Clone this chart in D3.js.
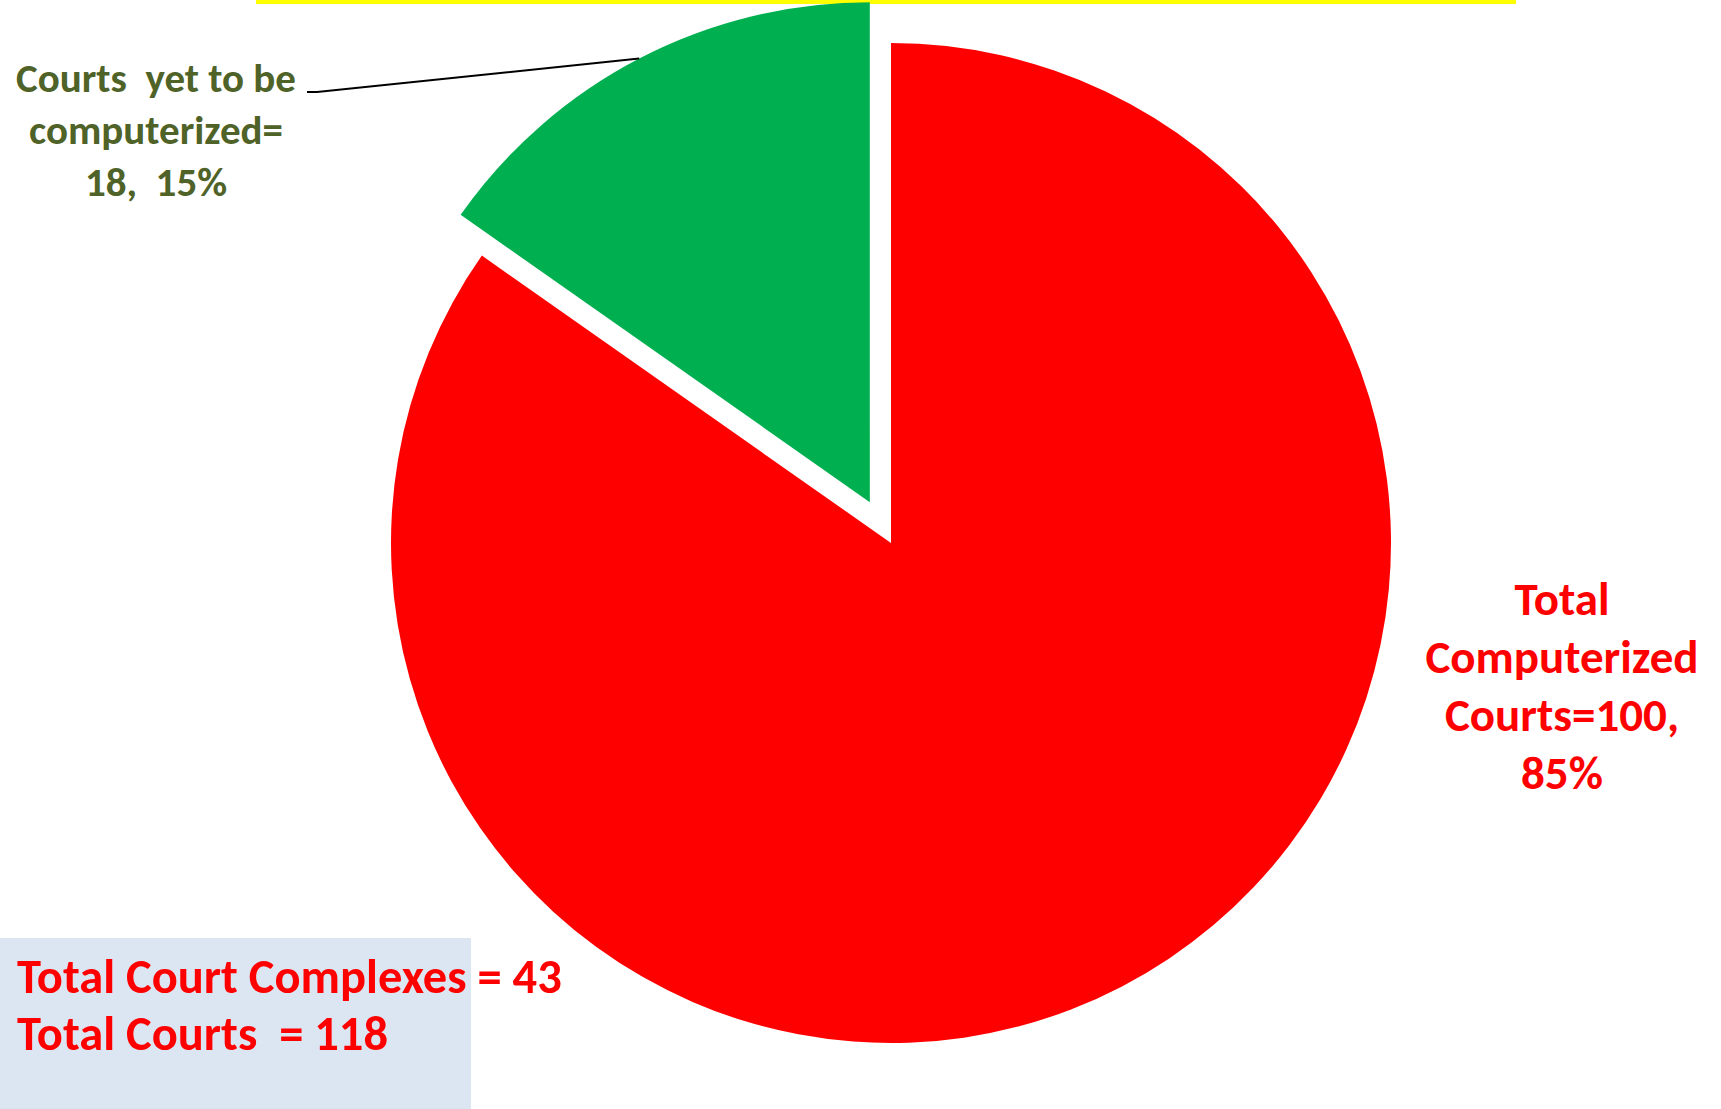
<!DOCTYPE html>
<html>
<head>
<meta charset="utf-8">
<script src="https://cdn.jsdelivr.net/npm/d3@7"></script>
<style>
  body { margin: 0; background: #fff; }
  svg { display: block; }
  text { font-family: Carlito, Lato, "Open Sans", sans-serif; font-weight: bold; white-space: pre; }
</style>
</head>
<body>
<div class="chart"></div>
<script>
const categories = ['Total Computerized Courts', 'Courts  yet to be computerized'];
const values = [100, 18];
const sliceColors = ['#ff0000', '#00b050'];
const labelColors = ['#ff0000', '#4f6228'];
const totalComplexes = 43;

const width = 1721;
const height = 1109;
const cx = 891;
const cy = 543;
const radius = 500;
const explode = 46;

const total = d3.sum(values);
const pct = d3.format('.0%');

const labelLines = [
  ['Total', 'Computerized', 'Courts=' + values[0] + ',', pct(values[0] / total)],
  ['Courts  yet to be', 'computerized=', values[1] + ',  ' + pct(values[1] / total)]
];

const svg = d3.select('.chart').append('svg')
  .attr('width', width)
  .attr('height', height);

// yellow strip along the top
svg.append('rect')
  .attr('x', 256).attr('y', 0)
  .attr('width', 1260).attr('height', 4)
  .style('fill', '#ffff00');

const pie = d3.pie().sort(null).value(d => d);
const arc = d3.arc().innerRadius(0).outerRadius(radius);
const arcs = pie(values);

// push the small slice out of the pie
const offset = (d, i) => {
  if (i !== 1) return [0, 0];
  const a = (d.startAngle + d.endAngle) / 2;
  return [Math.sin(a) * explode, -Math.cos(a) * explode];
};

const g = svg.append('g').attr('transform', `translate(${cx},${cy})`);
g.selectAll('path')
  .data(arcs)
  .enter()
  .append('path')
  .attr('d', arc)
  .attr('transform', (d, i) => `translate(${offset(d, i)})`)
  .style('fill', (d, i) => sliceColors[i]);

// leader from green slice edge to its label
const ga = arcs[1];
const mid = (ga.startAngle + ga.endAngle) / 2;
const [ox, oy] = offset(ga, 1);
const edgeX = cx + ox + Math.sin(mid) * radius;
const edgeY = cy + oy - Math.cos(mid) * radius;
svg.append('path')
  .attr('d', d3.line()([[edgeX, edgeY], [317, 92], [307, 92]]))
  .style('fill', 'none')
  .style('stroke', '#000')
  .style('stroke-width', 2);

// slice labels
const labelPos = [
  { x: 1562, y: 615, size: 47, lh: 58 },
  { x: 156, y: 92, size: 41, lh: 52 }
];
labelLines.forEach((lines, i) => {
  const p = labelPos[i];
  svg.append('text')
    .attr('text-anchor', 'middle')
    .attr('xml:space', 'preserve')
    .style('fill', labelColors[i])
    .style('font-size', p.size + 'px')
    .selectAll('tspan')
    .data(lines)
    .enter()
    .append('tspan')
    .attr('x', p.x)
    .attr('y', (d, j) => p.y + j * p.lh)
    .text(d => d);
});

// summary box bottom left
svg.append('rect')
  .attr('x', 0).attr('y', 938)
  .attr('width', 471).attr('height', height - 938)
  .style('fill', '#dce6f2');

const summary = [
  'Total Court Complexes = ' + totalComplexes,
  'Total Courts  = ' + total
];
svg.append('text')
  .attr('xml:space', 'preserve')
  .style('fill', '#ff0000')
  .style('font-size', '48.5px')
  .selectAll('tspan')
  .data(summary)
  .enter()
  .append('tspan')
  .attr('x', 17)
  .attr('y', (d, j) => 993 + j * 57)
  .text(d => d);
</script>
</body>
</html>
